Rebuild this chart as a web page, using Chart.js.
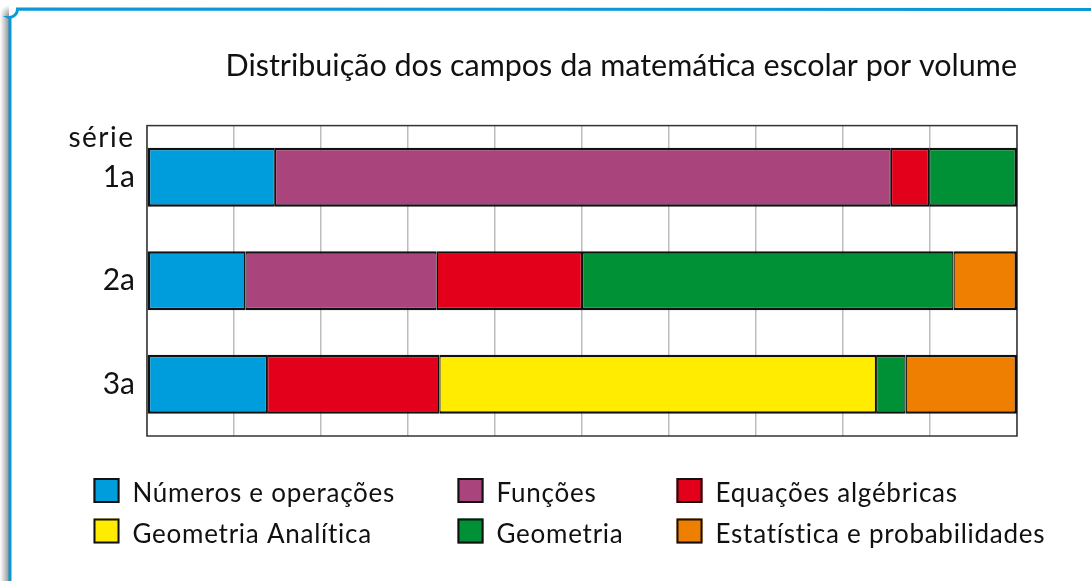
<!DOCTYPE html>
<html lang="pt">
<head>
<meta charset="utf-8">
<script src="https://cdn.jsdelivr.net/npm/chart.js@4.4.1/dist/chart.umd.min.js"></script>
<style>
  html, body { margin: 0; padding: 0; background: #ffffff; }
  #wrap { position: relative; width: 1091px; height: 581px; }
  canvas { display: block; }
</style>
</head>
<body>
<div id="wrap"><canvas id="c" width="1091" height="581"></canvas></div>
<script>
// ---- data ----
const categories = ['1a', '2a', '3a'];
const seriesNames = ['Números e operações', 'Funções', 'Equações algébricas', 'Geometria Analítica', 'Geometria', 'Estatística e probabilidades'];
const numeros      = [14.7, 11.3, 13.8];
const funcoes      = [70.8, 22.0, null];
const equacoes     = [4.4, 16.7, 19.8];
const geomAnalit   = [null, null, 50.2];
const geometria    = [10.1, 42.7, 3.4];
const estatistica  = [null, 7.3, 12.8];
const titleText = 'Distribuição dos campos da matemática escolar por volume';
const axisLabel = 'série';

// ---- styles ----
const colors = ['#009ddc', '#a9457c', '#e2001a', '#ffec00', '#009036', '#ee7f00'];
const FONT = 'Lato, "Noto Sans", sans-serif';
const seriesValues = [numeros, funcoes, equacoes, geomAnalit, geometria, estatistica];

function isPresent(v) { return v !== null && v !== undefined && v !== 0; }

function borderFor(ctx) {
  const di = ctx.datasetIndex, i = ctx.dataIndex;
  const ds = ctx.chart.data.datasets;
  let first = -1, last = -1;
  for (let k = 0; k < ds.length; k++) {
    if (isPresent(ds[k].data[i])) { if (first < 0) first = k; last = k; }
  }
  return { top: 2.5, bottom: 2.5, left: di === first ? 2.5 : 1.3, right: di === last ? 2.5 : 1.3 };
}

const datasets = seriesNames.map((name, k) => ({
  label: name,
  data: seriesValues[k],
  backgroundColor: colors[k],
  borderColor: '#111111',
  borderWidth: borderFor,
  borderSkipped: false,
  categoryPercentage: 1,
  barPercentage: 0.57
}));

const framePlugin = {
  id: 'frame',
  beforeDraw(chart) {
    const c = chart.ctx;
    c.save();
    c.fillStyle = '#ffffff';
    c.fillRect(0, 0, chart.width, chart.height);
    // left shadow
    const g = c.createLinearGradient(0, 0, 9, 0);
    g.addColorStop(0, 'rgba(120,120,120,0)');
    g.addColorStop(1, 'rgba(110,110,110,0.75)');
    c.fillStyle = g;
    c.fillRect(0, 14, 9, 581);
    const g2 = c.createRadialGradient(9, 14, 0, 9, 14, 9);
    g2.addColorStop(0, 'rgba(110,110,110,0.6)');
    g2.addColorStop(1, 'rgba(120,120,120,0)');
    c.fillStyle = g2;
    c.fillRect(0, 4, 9, 10);
    // blue frame
    c.beginPath();
    c.moveTo(10, 590);
    c.lineTo(10, 18);
    c.arc(9, 9, 8.5, Math.PI / 2, 0, true);
    c.lineTo(1100, 9.5);
    c.strokeStyle = '#0a98d6';
    c.lineWidth = 3;
    c.stroke();
    c.restore();
  },
  beforeDatasetsDraw(chart) {
    const a = chart.chartArea, c = chart.ctx;
    c.save();
    c.strokeStyle = '#333333';
    c.lineWidth = 1.5;
    c.strokeRect(a.left, a.top, a.right - a.left, a.bottom - a.top);
    c.restore();
  },
  afterDraw(chart) {
    const c = chart.ctx;
    c.save();
    // axis caption
    c.fillStyle = '#111111';
    c.font = '28px ' + FONT;
    c.letterSpacing = '1.5px';
    c.textAlign = 'right';
    c.textBaseline = 'alphabetic';
    c.fillText(axisLabel, 134.5, 147);
    // legend
    const colX = [93.5, 457.5, 676.5];
    const rowY = [478, 518.5];
    c.font = '26px ' + FONT;
    c.letterSpacing = '0.75px';
    c.textAlign = 'left';
    chart.data.datasets.forEach((ds, k) => {
      const x = colX[k % 3], y = rowY[Math.floor(k / 3)];
      c.fillStyle = ds.backgroundColor;
      c.fillRect(x, y, 26, 25);
      c.strokeStyle = '#111111';
      c.lineWidth = 2;
      c.strokeRect(x + 1, y + 1, 24, 23);
      c.fillStyle = '#111111';
      c.fillText(ds.label, x + 39, y + 24);
    });
    c.restore();
  }
};

new Chart(document.getElementById('c'), {
  type: 'bar',
  data: { labels: categories, datasets },
  plugins: [framePlugin],
  options: {
    indexAxis: 'y',
    responsive: false,
    animation: false,
    layout: { padding: { top: 0, left: 0, right: 74, bottom: 145 } },
    plugins: {
      legend: { display: false },
      tooltip: { enabled: false },
      title: {
        display: true,
        text: titleText,
        align: 'end',
        color: '#111111',
        font: { family: FONT, size: 30.5, weight: 'normal' },
        padding: { top: 48, bottom: 41 }
      }
    },
    scales: {
      x: {
        stacked: true,
        min: 0, max: 100,
        ticks: { display: false, stepSize: 10 },
        grid: { color: '#bdbdbd', lineWidth: 1.5, drawTicks: false },
        border: { display: false },
        afterFit(scale) { scale.height = 0; }
      },
      y: {
        stacked: true,
        ticks: { color: '#111111', font: { family: FONT, size: 30 }, padding: 12 },
        grid: { display: false, drawTicks: false },
        border: { display: false },
        afterFit(scale) { scale.width = 147; }
      }
    }
  }
});
</script>
</body>
</html>
